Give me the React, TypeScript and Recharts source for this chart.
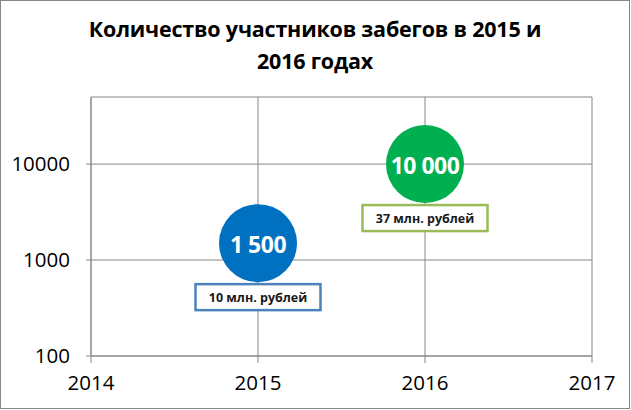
import { ScatterChart, Scatter, XAxis, YAxis, ZAxis, CartesianGrid } from 'recharts';

const years = [2015, 2016];
const participants = [1500, 10000];
const valueLabels = ['1 500', '10 000'];
const prizeLabels = ['10 млн. рублей', '37 млн. рублей'];
const xTicks = [2014, 2015, 2016, 2017];
const yTicks = [100, 1000, 10000];
const titleLines = ['Количество участников забегов в 2015 и', '2016 годах'];

const bubbleColors = ['#0070C0', '#00B050'];
const boxColors = ['#4F81BD', '#9BBB59'];
const FONT = '"Open Sans", sans-serif';
const GRID = '#878787';

const seriesData = years.map((year, i) => [
  { year, count: participants[i], size: 1, label: valueLabels[i], prize: prizeLabels[i] },
]);

function Bubble(props: any) {
  const { cx, cy, payload, fill, stroke } = props;
  const r = 39;
  const boxW = 125;
  const boxH = 26;
  return (
    <g>
      <circle cx={cx} cy={cy} r={r} fill={fill} />
      <text
        x={cx}
        y={cy + 1}
        textAnchor="middle"
        dominantBaseline="central"
        fill="#fff"
        fontFamily={FONT}
        fontWeight="bold"
        fontSize={23}
        letterSpacing={-0.5}
      >
        {payload.label}
      </text>
      <rect
        x={cx - boxW / 2}
        y={cy + r + 2}
        width={boxW}
        height={boxH}
        fill="#fff"
        stroke={stroke}
        strokeWidth={2.5}
      />
      <text
        x={cx}
        y={cy + r + 2 + boxH / 2}
        textAnchor="middle"
        dominantBaseline="central"
        fill="#1a1a1a"
        fontFamily={FONT}
        fontWeight="bold"
        fontSize={12.5}
      >
        {payload.prize}
      </text>
    </g>
  );
}

export default function App() {
  return (
    <div
      style={{
        position: 'absolute',
        left: 0,
        top: 0,
        width: 628,
        height: 407,
        border: `1px solid ${GRID}`,
        background: '#fff',
      }}
    >
      <style>{`body{margin:0}`}</style>
      <div
        style={{
          position: 'absolute',
          left: 0,
          right: 0,
          top: 12,
          textAlign: 'center',
          fontFamily: FONT,
          fontWeight: 'bold',
          fontSize: 21.5,
          lineHeight: '32px',
          color: '#000',
          letterSpacing: -0.2,
        }}
      >
        {titleLines.map((t) => (
          <div key={t}>{t}</div>
        ))}
      </div>
      <ScatterChart
        width={630}
        height={409}
        margin={{ top: 97, right: 38, bottom: 0, left: 0 }}
        style={{ position: 'absolute', left: -1, top: -1 }}
      >
        <CartesianGrid stroke={GRID} strokeWidth={1} />
        <XAxis
          type="number"
          dataKey="year"
          domain={[2014, 2017]}
          ticks={xTicks}
          interval={0}
          height={53}
          tickSize={7}
          tickMargin={12}
          stroke={GRID}
          tick={{ fill: '#000', fontSize: 20.5, fontFamily: FONT }}
        />
        <YAxis
          type="number"
          dataKey="count"
          scale="log"
          domain={[100, 50000]}
          ticks={yTicks}
          interval={0}
          width={91}
          tickSize={5}
          tickMargin={16}
          stroke={GRID}
          allowDataOverflow
          tick={{ fill: '#000', fontSize: 20.5, fontFamily: FONT }}
        />
        <ZAxis type="number" dataKey="size" range={[4778, 4778]} />
        {seriesData.map((d, i) => (
          <Scatter
            key={i}
            data={d}
            fill={bubbleColors[i]}
            stroke={boxColors[i]}
            shape={<Bubble />}
            isAnimationActive={false}
          />
        ))}
      </ScatterChart>
    </div>
  );
}
